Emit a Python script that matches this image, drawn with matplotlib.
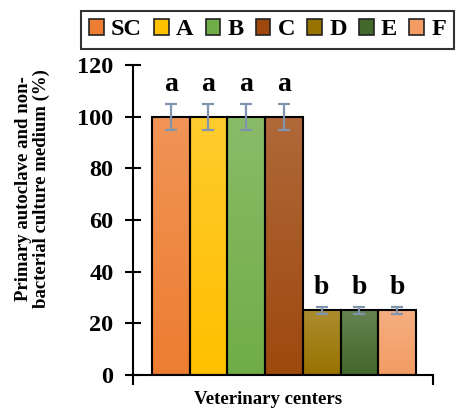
import matplotlib.pyplot as plt
import numpy as np
from matplotlib.colors import to_rgb
from matplotlib.patches import Patch

plt.rcParams['font.family'] = ['Liberation Serif', 'DejaVu Serif']
plt.rcParams['font.weight'] = 'bold'

centers = ['SC', 'A', 'B', 'C', 'D', 'E', 'F']
values = [100, 100, 100, 100, 25, 25, 25]
errors = [5, 5, 5, 5, 1.5, 1.5, 1.5]
letters = ['a', 'a', 'a', 'a', 'b', 'b', 'b']
colors = ['#ED7D31', '#FFC000', '#70AD47', '#9E480E', '#997300', '#43682B', '#F39C64']

fig = plt.figure(figsize=(4.59, 4.09), dpi=100)
ax = fig.add_axes([0.2898, 0.0831, 0.6536, 0.758])

x = np.arange(len(centers))
bars = ax.bar(x, values, width=1.0, color=colors, edgecolor='none', zorder=1)

# vertical gradient inside each bar, lighter at the top
for b, c in zip(bars, colors):
    base = np.array(to_rgb(c))
    light = base + (1 - base) * 0.18
    t = np.linspace(0, 1, 64)[:, None]
    grad = light[None, :] * (1 - t) + base[None, :] * t
    img = ax.imshow(grad[:, None, :], aspect='auto', zorder=1.5,
                    extent=[b.get_x(), b.get_x() + b.get_width(), 0, b.get_height()],
                    interpolation='bilinear')
    img.set_clip_path(b)

ax.bar(x, values, width=1.0, fill=False, edgecolor='black', linewidth=1.5, zorder=2)
ax.errorbar(x, values, yerr=errors, fmt='none', ecolor='#8094AE', elinewidth=1.6,
            capsize=4.5, capthick=1.6, zorder=3)

for xi, v, e, s in zip(x, values, errors, letters):
    ax.text(xi, v + e + 5, s, ha='center', va='baseline', fontsize=20, fontweight='bold')

ax.set_xlim(-1.0, 6.95)
ax.set_ylim(0, 120)
ax.set_yticks(range(0, 121, 20))
ax.set_xticks([-1.0, 6.95])
ax.set_xticklabels([])
ax.tick_params(axis='y', direction='inout', length=12, width=1.5, labelsize=17.5, pad=8)
ax.tick_params(axis='x', direction='out', length=7, width=1.5)
for lab in ax.get_yticklabels():
    lab.set_fontweight('bold')

for side in ['top', 'right']:
    ax.spines[side].set_visible(False)
for side in ['left', 'bottom']:
    ax.spines[side].set_linewidth(1.5)

ax.set_xlabel('Veterinary centers', fontsize=13.5, fontweight='bold', labelpad=1)
ax.xaxis.label.set_x(0.45)
ax.set_ylabel('Primary autoclave and non-\nbacterial culture medium (%)', fontsize=13.5,
              fontweight='bold', labelpad=20, linespacing=1.0)
ax.yaxis.label.set_y(0.6)

handles = [Patch(facecolor=c, edgecolor='#222222', linewidth=1.2) for c in colors]
leg = fig.legend(handles, centers, loc='center', bbox_to_anchor=(0.583, 0.927), ncol=7,
                 fontsize=17.5, frameon=True, fancybox=False, edgecolor='black',
                 handlelength=0.6, handleheight=0.6, handletextpad=0.3,
                 columnspacing=0.5, borderpad=0.35, borderaxespad=0)
leg.get_frame().set_linewidth(1.5)
for t in leg.get_texts():
    t.set_fontweight('bold')

plt.savefig('out.png', dpi=100)
